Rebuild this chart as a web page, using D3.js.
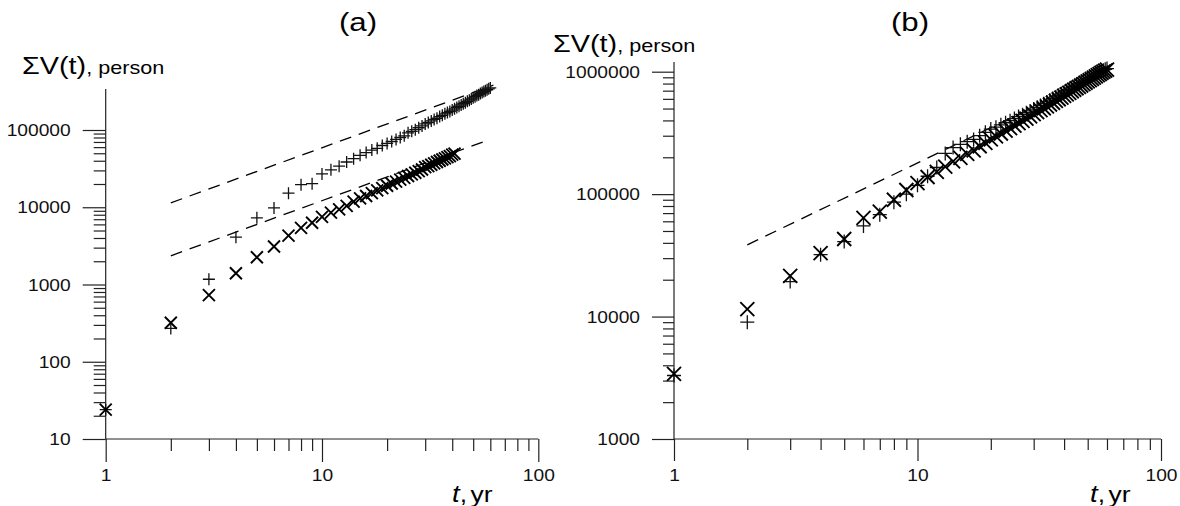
<!DOCTYPE html>
<html>
<head>
<meta charset="utf-8">
<script src="https://cdn.jsdelivr.net/npm/d3@7"></script>
<style>
  html, body { margin: 0; padding: 0; background: #fff; }
  svg { display: block; font-family: "Liberation Sans", Arial, sans-serif; }
</style>
</head>
<body>
<svg id="chart" width="1180" height="506"></svg>
<script>
// Time since start, years
const years = [1, 2, 3, 4, 5, 6, 7, 8, 9, 10,
  11, 12, 13, 14, 15, 16, 17, 18, 19, 20,
  21, 22, 23, 24, 25, 26, 27, 28, 29, 30,
  31, 32, 33, 34, 35, 36, 37, 38, 39, 40,
  41, 42, 43, 44, 45, 46, 47, 48, 49, 50,
  51, 52, 53, 54, 55, 56, 57, 58, 59, 60];

// Panel (a): cumulative totals, persons
const aPlus = [24, 270, 1170, 4100, 7300, 9800, 15200, 19600, 20200, 27000,
  30500, 34000, 38500, 42500, 47000, 51000, 55000, 58000, 63000, 67000,
  71000, 75500, 80000, 84000, 92000, 96000, 101000, 107000, 113000, 120000,
  125000, 131000, 137000, 142000, 149000, 155000, 162000, 168000, 174000, 181000,
  188000, 196000, 203000, 211000, 219000, 226000, 235000, 243000, 252000, 261000,
  270000, 279000, 287000, 296000, 305000, 314000, 323000, 332000, 341000, 350000];
const aCross = [24, 320, 730, 1400, 2250, 3100, 4300, 5400, 6300, 7500,
  8500, 9400, 10400, 11800, 13000, 14000, 15200, 16500, 17700, 19000,
  20300, 21500, 22800, 24000, 25400, 26700, 28000, 29300, 30800, 33000,
  34000, 35500, 37000, 38500, 40000, 41500, 43000, 44500, 46000, 48000,
  49500];
// Dashed reference lines [t, value]
const aFitUpper = [[2, 11400], [62, 380000]];
const aFitLower = [[2, 2350], [57, 72000]];

// Panel (b): cumulative totals, persons
const bPlus = [3300, 9000, 19300, 32000, 41000, 55000, 68000, 86000, 100000, 118000,
  140000, 165000, 215000, 240000, 255000, 268000, 280000, 300000, 320000, 340000,
  352000, 368000, 383000, 398000, 414000, 430000, 446000, 462000, 478000, 495000,
  512000, 530000, 548000, 566000, 585000, 603000, 622000, 641000, 660000, 680000,
  699000, 718000, 738000, 758000, 778000, 798000, 818000, 838000, 858000, 878000,
  898000, 918000, 938000, 958000, 978000, 998000, 1015000, 1030000, 1045000, 1060000];
const bCross = [3400, 11500, 21500, 33000, 43000, 64000, 72000, 90000, 108000, 123000,
  138000, 152000, 168000, 185000, 198000, 213000, 228000, 246000, 262000, 280000,
  296000, 313000, 330000, 346000, 363000, 380000, 397000, 414000, 432000, 450000,
  467000, 485000, 503000, 521000, 540000, 558000, 577000, 596000, 615000, 634000,
  653000, 672000, 692000, 712000, 732000, 752000, 772000, 792000, 812000, 833000,
  853000, 874000, 895000, 916000, 937000, 958000, 980000, 1000000, 1020000, 1040000];
const bFit = [[2, 38500], [60, 1000000]];

// Tick labels
const xMajor = [1, 10, 100];
const aYMajor = [10, 100, 1000, 10000, 100000];
const bYMajor = [1000, 10000, 100000, 1000000];

const svg = d3.select("#chart");
const STRETCH = 1.2;   // text is set slightly wide

function stretchText(sel, x, y) {
  sel.attr("x", 0).attr("y", 0)
     .attr("transform", `translate(${x},${y}) scale(${STRETCH},1)`);
}

function drawPanel(cfg) {
  const g = svg.append("g");
  const x = d3.scaleLog().domain([1, 100]).range(cfg.xRange);
  const y = d3.scaleLog().domain(cfg.yDomain).range(cfg.yRange);
  const x0 = x(1), y0 = y(cfg.yDomain[0]);

  const yMinor = y.ticks().filter(v => !cfg.yMajor.includes(v));
  const xMinor = x.ticks().filter(v => !xMajor.includes(v));

  // minor ticks
  const yMin = g.append("g").attr("transform", `translate(${x0},0)`)
    .call(d3.axisLeft(y).tickValues(yMinor).tickSize(cfg.minorLen).tickFormat(""));
  const xMin = g.append("g").attr("transform", `translate(0,${y0})`)
    .call(d3.axisBottom(x).tickValues(xMinor).tickSize(cfg.minorLen).tickFormat(""));

  // major ticks with labels
  const yMaj = g.append("g").attr("transform", `translate(${x0},0)`)
    .call(d3.axisLeft(y).tickValues(cfg.yMajor).tickSize(cfg.majorLen).tickPadding(12)
      .tickFormat(d3.format("d")));
  const xMaj = g.append("g").attr("transform", `translate(0,${y0})`)
    .call(d3.axisBottom(x).tickValues(xMajor).tickSize(cfg.majorLen).tickPadding(8)
      .tickFormat(d3.format("d")));

  [yMin, xMin, yMaj, xMaj].forEach(a => {
    a.select(".domain").remove();
    a.attr("font-size", null).attr("font-family", null);
    a.selectAll(".tick line").attr("stroke", "#222").attr("stroke-width", 1.2);
  });

  yMaj.selectAll(".tick text").each(function () {
    const t = d3.select(this);
    const tx = +t.attr("x");
    t.attr("x", 0).attr("dy", "0.35em")
     .attr("transform", `translate(${tx},0) scale(${STRETCH},1)`)
     .attr("font-size", 16).attr("fill", "#111");
  });
  xMaj.selectAll(".tick text").each(function () {
    const t = d3.select(this);
    t.attr("y", 0).attr("dy", "0")
     .attr("transform", `translate(0,${cfg.xLabelBase}) scale(${STRETCH},1)`)
     .attr("font-size", 16).attr("fill", "#111");
  });

  // axis lines
  g.append("line").attr("x1", x0).attr("x2", x0)
    .attr("y1", y0).attr("y2", y(cfg.yTop))
    .attr("stroke", "#222").attr("stroke-width", 1.2);
  g.append("line").attr("x1", x0).attr("x2", x(100))
    .attr("y1", y0).attr("y2", y0)
    .attr("stroke", "#222").attr("stroke-width", 1.2);

  // dashed reference lines
  const line = d3.line().x(d => x(d[0])).y(d => y(d[1]));
  cfg.fits.forEach(f => {
    g.append("path").attr("d", line(f)).attr("fill", "none")
      .attr("stroke", "#000").attr("stroke-width", 1.3)
      .attr("stroke-dasharray", "12,8");
  });

  // markers
  const s = cfg.markSize;
  const plusPath = `M${-s},0H${s}M0,${-s}V${s}`;
  const crossPath = `M${-s},${-s}L${s},${s}M${-s},${s}L${s},${-s}`;
  const pts = (vals) => vals.map((v, i) => [years[i], v]);

  g.append("g").selectAll("path").data(pts(cfg.plus)).join("path")
    .attr("transform", d => `translate(${x(d[0])},${y(d[1])})`)
    .attr("d", plusPath).attr("fill", "none")
    .attr("stroke", "#111").attr("stroke-width", 1.3);
  g.append("g").selectAll("path").data(pts(cfg.cross)).join("path")
    .attr("transform", d => `translate(${x(d[0])},${y(d[1])})`)
    .attr("d", crossPath).attr("fill", "none")
    .attr("stroke", "#000").attr("stroke-width", 1.9);

  // panel letter
  g.append("text").attr("text-anchor", "middle").attr("font-size", 26)
    .attr("fill", "#000").text(cfg.title)
    .call(stretchText, cfg.titlePos[0], cfg.titlePos[1]);

  // y title
  const yt = g.append("text").attr("fill", "#000");
  yt.append("tspan").attr("font-size", 24).text("\u03A3V(t)");
  yt.append("tspan").attr("font-size", 18).text(", person");
  yt.call(stretchText, cfg.yTitlePos[0], cfg.yTitlePos[1]);

  // x title
  const xt = g.append("text").attr("fill", "#000");
  xt.append("tspan").attr("font-size", 23).attr("font-style", "italic").text("t");
  xt.append("tspan").attr("font-size", 22).text(",");
  xt.append("tspan").attr("font-size", 22).attr("dx", 3).text("yr");
  xt.call(stretchText, cfg.xTitlePos[0], cfg.xTitlePos[1]);
}

drawPanel({
  title: "(a)", titlePos: [358, 31],
  xRange: [105.7, 538.3], yDomain: [10, 100000], yRange: [439, 130], yTop: 340000,
  yMajor: aYMajor, minorLen: 12, majorLen: 23, xLabelBase: 42,
  plus: aPlus, cross: aCross, fits: [aFitUpper, aFitLower], markSize: 6,
  yTitlePos: [22, 74], xTitlePos: [452, 502]
});

drawPanel({
  title: "(b)", titlePos: [910, 31],
  xRange: [674, 1161], yDomain: [1000, 1000000], yRange: [439, 71.7], yTop: 1200000,
  yMajor: bYMajor, minorLen: 11, majorLen: 22, xLabelBase: 42,
  plus: bPlus, cross: bCross, fits: [bFit], markSize: 7,
  yTitlePos: [553, 52], xTitlePos: [1090, 502]
});
</script>
</body>
</html>
